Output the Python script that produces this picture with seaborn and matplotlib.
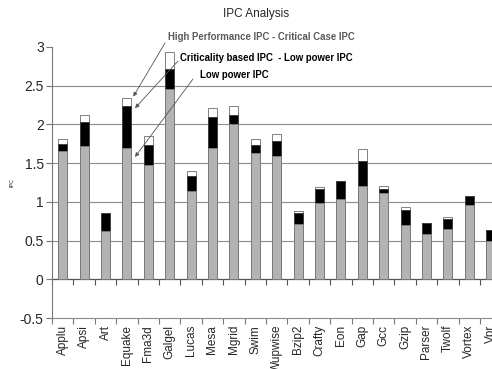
import numpy as np
import seaborn as sns
import matplotlib.pyplot as plt
from matplotlib.ticker import FixedLocator, NullFormatter

# benchmarks and IPC values
benchmarks = ['Applu', 'Apsi', 'Art', 'Equake', 'Fma3d', 'Galgel', 'Lucas', 'Mesa', 'Mgrid',
              'Swim', 'Wupwise', 'Bzip2', 'Crafty', 'Eon', 'Gap', 'Gcc', 'Gzip', 'Parser',
              'Twolf', 'Vortex', 'Vpr']
low_power_ipc = [1.66, 1.72, 0.62, 1.70, 1.475, 2.46, 1.14, 1.69, 2.01,
                 1.63, 1.59, 0.71, 0.99, 1.035, 1.20, 1.12, 0.695, 0.59,
                 0.655, 0.965, 0.50]
criticality_ipc = [1.75, 2.035, 0.86, 2.24, 1.74, 2.72, 1.34, 2.10, 2.12,
                   1.74, 1.78, 0.85, 1.16, 1.27, 1.53, 1.17, 0.89, 0.73,
                   0.775, 1.07, 0.64]
high_perf_ipc = [1.81, 2.12, 0.86, 2.34, 1.85, 2.93, 1.40, 2.21, 2.24,
                 1.81, 1.875, 0.88, 1.19, 1.27, 1.68, 1.20, 0.93, 0.73,
                 0.80, 1.07, 0.64]

sns.set_theme(style='white')
plt.rcParams['font.family'] = ['Liberation Sans', 'DejaVu Sans']

W, H = 492, 369
fig = plt.figure(figsize=(W / 100, H / 100), dpi=100)
# the plot area runs past the right edge of the picture, like the original
ax = fig.add_axes([52 / W, 1 - 318 / H, 449.4 / W, 271 / H])

bar_w = 0.42
sns.barplot(x=benchmarks, y=high_perf_ipc, color='white', edgecolor='#808080',
            linewidth=0.7, width=bar_w, saturation=1, ax=ax, zorder=3)
sns.barplot(x=benchmarks, y=criticality_ipc, color='black', edgecolor='#404040',
            linewidth=0.7, width=bar_w, saturation=1, ax=ax, zorder=3)
sns.barplot(x=benchmarks, y=low_power_ipc, color='#b3b3b3', edgecolor='#7a7a7a',
            linewidth=0.7, width=bar_w, saturation=1, ax=ax, zorder=3)

ax.set_xlim(-0.5, len(benchmarks) - 0.5)
ax.set_ylim(-0.5, 3)
ax.set_yticks(np.arange(-0.5, 3.01, 0.5))
ax.set_yticklabels(['-0.5', '0', '0.5', '1', '1.5', '2', '2.5', '3'], fontsize=10)
for y in np.arange(0.5, 2.51, 0.5):
    ax.axhline(y, color='#8c8c8c', lw=0.8, zorder=1)

# category axis drawn at zero, ticks between categories
bounds = np.arange(-0.5, len(benchmarks), 1.0)
sec = ax.secondary_xaxis(0.5 / 3.5)
sec.set_xticks(bounds)
sec.xaxis.set_major_formatter(NullFormatter())
sec.tick_params(axis='x', direction='out', length=4, width=0.8, color='#555555')
sec.spines['bottom'].set_color('#555555')
sec.spines['bottom'].set_linewidth(0.9)

ax.set_xticks(range(len(benchmarks)))
ax.set_xticklabels(benchmarks, rotation=90, fontsize=8.5)
ax.xaxis.set_minor_locator(FixedLocator(bounds))
ax.tick_params(axis='x', which='major', length=0, pad=5)
ax.tick_params(axis='x', which='minor', bottom=True, direction='out', length=4,
               width=0.8, color='#777777')
ax.tick_params(axis='y', left=True, direction='out', length=4, width=0.8,
               color='#777777', pad=2)
for side in ['top', 'right']:
    ax.spines[side].set_visible(False)
ax.spines['left'].set_color('#777777')
ax.spines['bottom'].set_color('#8c8c8c')
ax.spines['left'].set_linewidth(0.8)
ax.spines['bottom'].set_linewidth(0.8)

ax.set_xlabel('')
ax.set_ylabel('IPC', fontsize=4, labelpad=4)

fig.text(256 / W, 1 - 14 / H, 'IPC Analysis', ha='center', va='center', fontsize=8.5)

# labels pointing at the Equake bar
labels = ['High Performance IPC - Critical Case IPC',
          'Criticality based IPC  - Low power IPC',
          'Low power IPC']
label_pos = [(168, 37), (180, 58), (200, 75)]
label_colors = ['#5a5a5a', 'black', 'black']
arrow_from = [(165, 43), (178, 61), (193, 79)]
arrow_to = [(3.3, 2.36), (3.38, 2.21), (3.38, 1.58)]
for txt, (px, py), c, (sx, sy), tip in zip(labels, label_pos, label_colors,
                                           arrow_from, arrow_to):
    fig.text(px / W, 1 - py / H, txt, ha='left', va='center', fontsize=6.9,
             fontweight='bold', color=c)
    ax.annotate('', xy=tip, xycoords='data', xytext=(sx, H - sy),
                textcoords='figure pixels',
                arrowprops=dict(arrowstyle='-|>', color='#555555', lw=0.6,
                                mutation_scale=6, shrinkA=0, shrinkB=0))

fig.savefig('out.png', dpi=100)
